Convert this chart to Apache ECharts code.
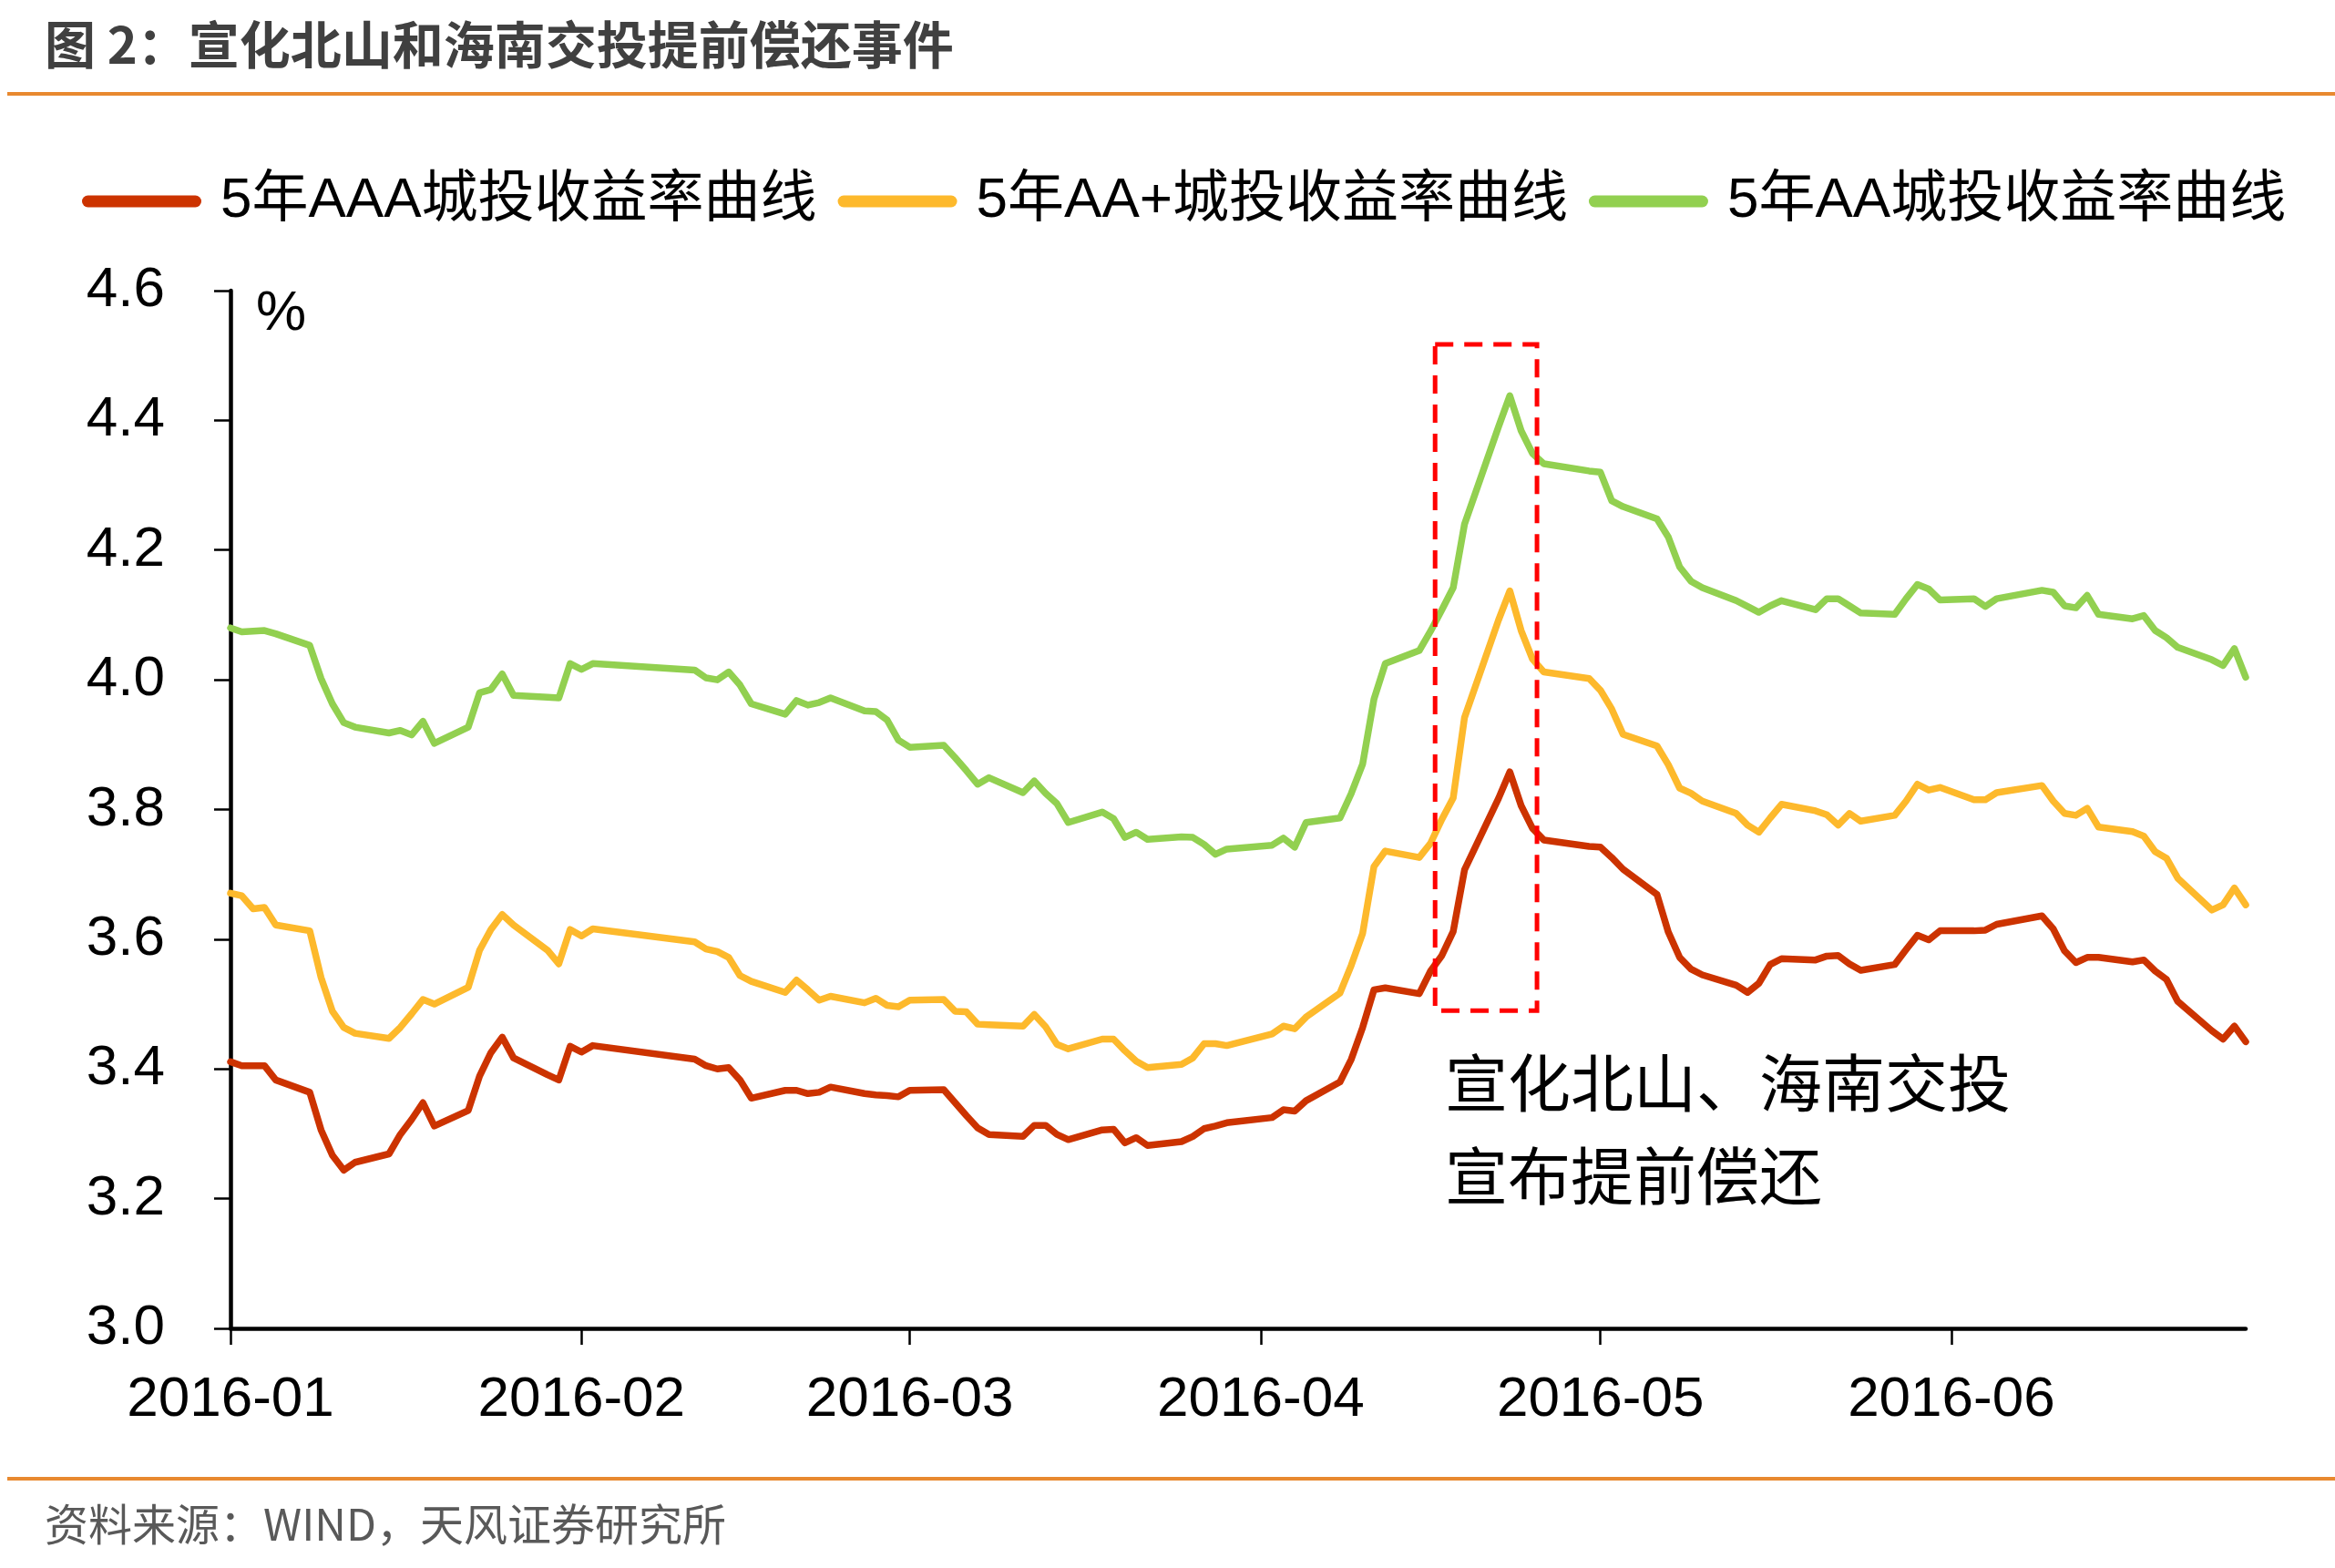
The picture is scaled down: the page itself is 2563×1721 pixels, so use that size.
<!DOCTYPE html>
<html><head><meta charset="utf-8">
<script src="https://cdn.jsdelivr.net/npm/echarts@6/dist/echarts.min.js"></script>
<style>html,body{margin:0;padding:0;background:#fff}#c{width:2563px;height:1721px}</style>
</head><body><div id="c"></div>
<script>
// ---------- data ----------
const dates = [
 '2016-01-04','2016-01-05','2016-01-06','2016-01-07','2016-01-08','2016-01-11','2016-01-12','2016-01-13','2016-01-14','2016-01-15',
 '2016-01-18','2016-01-19','2016-01-20','2016-01-21','2016-01-22','2016-01-25','2016-01-26','2016-01-27','2016-01-28','2016-01-29',
 '2016-02-01','2016-02-02','2016-02-03','2016-02-04','2016-02-05','2016-02-14','2016-02-15','2016-02-16','2016-02-17','2016-02-18',
 '2016-02-19','2016-02-22','2016-02-23','2016-02-24','2016-02-25','2016-02-26','2016-02-29',
 '2016-03-01','2016-03-02','2016-03-03','2016-03-04','2016-03-07','2016-03-08','2016-03-09','2016-03-10','2016-03-11','2016-03-14',
 '2016-03-15','2016-03-16','2016-03-17','2016-03-18','2016-03-21','2016-03-22','2016-03-23','2016-03-24','2016-03-25','2016-03-28',
 '2016-03-29','2016-03-30','2016-03-31',
 '2016-04-01','2016-04-05','2016-04-06','2016-04-07','2016-04-08','2016-04-11','2016-04-12','2016-04-13','2016-04-14','2016-04-15',
 '2016-04-18','2016-04-19','2016-04-20','2016-04-21','2016-04-22','2016-04-25','2016-04-26','2016-04-27','2016-04-28','2016-04-29',
 '2016-05-03','2016-05-04','2016-05-05','2016-05-06','2016-05-09','2016-05-10','2016-05-11','2016-05-12','2016-05-13','2016-05-16',
 '2016-05-17','2016-05-18','2016-05-19','2016-05-20','2016-05-23','2016-05-24','2016-05-25','2016-05-26','2016-05-27','2016-05-30','2016-05-31',
 '2016-06-01','2016-06-02','2016-06-03','2016-06-06','2016-06-07','2016-06-08','2016-06-12','2016-06-13','2016-06-14','2016-06-15',
 '2016-06-16','2016-06-17','2016-06-20','2016-06-21','2016-06-22','2016-06-23','2016-06-24','2016-06-27','2016-06-28','2016-06-29','2016-06-30'
];
const aaa = [
 3.411,3.405,3.405,3.405,3.383,3.364,3.306,3.267,3.244,3.256,3.269,3.299,3.322,3.348,3.312,3.336,3.389,3.425,3.449,3.417,
 3.391,3.383,3.435,3.426,3.436,3.415,3.405,3.400,3.402,3.383,3.355,3.367,3.367,3.362,3.364,3.372,3.362,
 3.360,3.359,3.357,3.367,3.368,3.348,3.328,3.309,3.299,3.296,3.313,3.313,3.299,3.291,3.306,3.307,3.286,3.294,3.282,3.288,3.296,3.308,3.312,
 3.317,3.325,3.337,3.335,3.351,3.380,3.415,3.464,3.522,3.525,3.516,3.551,3.575,3.612,3.707,3.817,3.858,3.806,3.771,3.753,
 3.743,3.742,3.726,3.708,3.669,3.611,3.572,3.554,3.545,3.529,3.518,3.532,3.561,3.570,3.568,3.574,3.575,3.562,3.552,3.561,3.584,
 3.606,3.599,3.613,3.613,3.614,3.623,3.636,3.616,3.582,3.564,3.572,3.572,3.565,3.568,3.551,3.538,3.504,3.459,3.446,3.466,3.442
];
const aaPlus = [
 3.671,3.667,3.647,3.649,3.622,3.613,3.541,3.489,3.464,3.455,3.447,3.464,3.485,3.507,3.500,3.526,3.583,3.615,3.638,3.622,
 3.583,3.562,3.615,3.605,3.616,3.596,3.585,3.581,3.572,3.544,3.535,3.518,3.537,3.522,3.506,3.512,3.502,
 3.509,3.498,3.496,3.506,3.507,3.489,3.488,3.469,3.468,3.466,3.484,3.465,3.438,3.431,3.446,3.446,3.428,3.412,3.402,3.407,3.417,3.439,3.439,
 3.436,3.454,3.466,3.462,3.480,3.517,3.560,3.609,3.712,3.736,3.726,3.748,3.785,3.818,3.942,4.092,4.137,4.076,4.032,4.012,
 4.002,3.984,3.955,3.916,3.898,3.869,3.833,3.825,3.813,3.794,3.776,3.765,3.787,3.808,3.798,3.792,3.776,3.794,3.782,3.791,3.813,
 3.839,3.830,3.834,3.815,3.815,3.826,3.837,3.813,3.794,3.791,3.802,3.773,3.766,3.759,3.735,3.725,3.694,3.645,3.653,3.679,3.653
];
const aa = [
 4.080,4.074,4.075,4.076,4.071,4.053,4.002,3.963,3.934,3.927,3.918,3.922,3.915,3.936,3.902,3.927,3.980,3.985,4.009,3.976,
 3.973,3.972,4.025,4.016,4.025,4.015,4.003,4.000,4.012,3.992,3.963,3.947,3.968,3.961,3.965,3.972,3.952,
 3.951,3.938,3.907,3.896,3.899,3.880,3.860,3.839,3.849,3.826,3.844,3.825,3.809,3.780,3.796,3.786,3.757,3.765,3.754,3.758,3.757,3.746,3.731,
 3.739,3.745,3.756,3.742,3.780,3.787,3.825,3.870,3.970,4.025,4.045,4.075,4.108,4.142,4.240,4.390,4.438,4.384,4.349,4.333,
 4.322,4.320,4.276,4.267,4.248,4.220,4.174,4.152,4.142,4.122,4.113,4.104,4.114,4.122,4.108,4.125,4.125,4.114,4.103,4.101,4.125,
 4.147,4.140,4.123,4.125,4.113,4.125,4.138,4.135,4.114,4.111,4.130,4.101,4.094,4.099,4.076,4.065,4.050,4.031,4.022,4.048,4.004
];
const seriesNames = ['5年AAA城投收益率曲线', '5年AA+城投收益率曲线', '5年AA城投收益率曲线'];
const xTickDates = ['2016-01-04','2016-02-04','2016-03-04','2016-04-04','2016-05-04','2016-06-04'];
const xRange = ['2016-01-04', '2016-06-30'];
const yRange = [3.0, 4.6];
const yStep = 0.2;
const eventBox = { from: '2016-04-19T09:36:00Z', to: '2016-04-28T09:36:00Z', low: 3.49, high: 4.517 };
const titleText = '图 2：宣化北山和海南交投提前偿还事件';
const noteText = '宣化北山、海南交投\n宣布提前偿还';
const sourceText = '资料来源：WIND，天风证券研究所';

// ---------- chart ----------
const FONT = '"Liberation Sans", Arial, "Noto Sans CJK SC", sans-serif';
const CJK = '"Noto Sans CJK SC", "Liberation Sans", sans-serif';
const colors = ['#CC3300', '#FDB92C', '#92D050'];
const ts = s => Date.parse(s.length === 10 ? s + 'T00:00:00Z' : s);
const pairs = arr => dates.map((d, i) => [ts(d), arr[i]]);
const fmtMonth = v => { const d = new Date(v); return d.getUTCFullYear() + '-' + String(d.getUTCMonth() + 1).padStart(2, '0'); };

const chart = echarts.init(document.getElementById('c'), null, { renderer: 'canvas' });
const capsule = 'path://M6.5,0 H124.5 A6.5,6.5 0 0 1 124.5,13 H6.5 A6.5,6.5 0 0 1 6.5,0 Z';
const values = [aaa, aaPlus, aa];

chart.setOption({
  backgroundColor: '#ffffff',
  animation: false,
  textStyle: { fontFamily: FONT },
  title: {
    text: titleText, left: 49, top: 21, padding: 0,
    textStyle: { fontFamily: CJK, fontSize: 56, fontWeight: 'bold', color: '#404040' }
  },
  legend: {
    left: 90, top: 190, padding: 0, itemGap: 23, itemWidth: 131, itemHeight: 13,
    textStyle: { fontFamily: FONT, fontSize: 62, color: '#000', padding: [0, 0, 0, 16] },
    data: seriesNames.map((n, i) => ({ name: n, icon: capsule, itemStyle: { color: colors[i] } }))
  },
  grid: { left: 253, right: 98, top: 319, bottom: 263, containLabel: false },
  xAxis: {
    type: 'value', min: ts(xRange[0]), max: ts(xRange[1]),
    splitLine: { show: false },
    axisLine: { show: true, onZero: false, lineStyle: { color: '#000', width: 4.5 } },
    axisTick: { show: true, length: 18, inside: false, customValues: xTickDates.map(ts), lineStyle: { color: '#000', width: 2.5 } },
    axisLabel: { customValues: xTickDates.map(ts), formatter: fmtMonth, fontSize: 62, color: '#000', margin: 48, fontFamily: FONT }
  },
  yAxis: {
    type: 'value', min: yRange[0], max: yRange[1], interval: yStep,
    name: '%', nameLocation: 'end', nameGap: -26,
    nameTextStyle: { fontSize: 62, color: '#000', align: 'left', verticalAlign: 'middle', padding: [0, 0, 0, 28], fontFamily: FONT },
    splitLine: { show: false },
    axisLine: { show: true, lineStyle: { color: '#000', width: 4.5 } },
    axisTick: { show: true, length: 18, lineStyle: { color: '#000', width: 2.5 } },
    axisLabel: { formatter: v => v.toFixed(1), fontSize: 62, color: '#000', margin: 72, fontFamily: FONT }
  },
  series: values.map((arr, i) => ({
    name: seriesNames[i], type: 'line', data: pairs(arr), showSymbol: false, symbol: 'none',
    lineStyle: { color: colors[i], width: 7.5, cap: 'round', join: 'round' },
    itemStyle: { color: colors[i] },
    z: 2 + i,
    markArea: i === 2 ? {
      silent: true, z: 10,
      itemStyle: { color: 'rgba(0,0,0,0)', borderColor: '#FF0000', borderWidth: 5, borderType: [20, 12] },
      data: [[{ xAxis: ts(eventBox.from), yAxis: eventBox.high }, { xAxis: ts(eventBox.to), yAxis: eventBox.low }]]
    } : undefined
  })),
  graphic: [
    { type: 'line', shape: { x1: 8, y1: 103, x2: 2563, y2: 103 }, style: { stroke: '#E8892F', lineWidth: 4 } },
    { type: 'line', shape: { x1: 8, y1: 1623, x2: 2563, y2: 1623 }, style: { stroke: '#E8892F', lineWidth: 4 } },
    { type: 'text', left: 1586, top: 1138, style: { text: noteText, fontFamily: CJK, fontSize: 69, lineHeight: 102, fill: '#000' } },
    { type: 'text', left: 49, top: 1649, style: { text: sourceText, fontFamily: CJK, fontSize: 48, fill: '#595959' } }
  ]
});
</script></body></html>
